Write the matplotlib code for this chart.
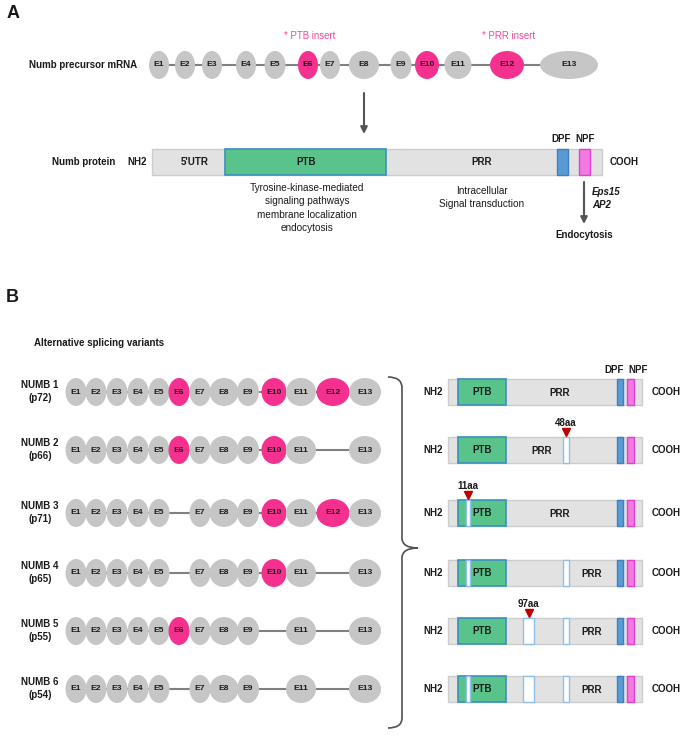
import matplotlib.pyplot as plt
from matplotlib.patches import Ellipse, Rectangle, PathPatch
from matplotlib.path import Path

plt.rcParams['font.family'] = ['Liberation Sans', 'DejaVu Sans']

# ---- data ----
exons = ['E1', 'E2', 'E3', 'E4', 'E5', 'E6', 'E7', 'E8', 'E9', 'E10', 'E11', 'E12', 'E13']
insert_exons = ['E6', 'E10', 'E12']
insert_sizes = ['11aa', '97aa', '48aa']
insert_notes = {'E6': '* PTB insert', 'E12': '* PRR insert'}

domains = ["5'UTR", 'PTB', 'PRR']
motifs = ['DPF', 'NPF']
ptb_roles = ['Tyrosine-kinase-mediated', 'signaling pathways', 'membrane localization', 'endocytosis']
prr_roles = ['Intracellular', 'Signal transduction']
npf_partners = ['Eps15', 'AP2']

variants = ['NUMB 1', 'NUMB 2', 'NUMB 3', 'NUMB 4', 'NUMB 5', 'NUMB 6']
isoforms = ['(p72)', '(p66)', '(p71)', '(p65)', '(p55)', '(p54)']
skipped = [[], ['E12'], ['E6'], ['E6', 'E12'], ['E10', 'E12'], ['E6', 'E10', 'E12']]

# ---- layout (pixels) ----
A_EX_X = [159, 185, 212, 246, 275, 308, 330, 364, 401, 427, 458, 507, 569]
A_EX_W = [20, 20, 20, 20, 21, 20, 20, 30, 21, 24, 27, 34, 58]
B_EX_X = [76, 96, 117, 138, 159, 179, 200, 224, 248, 274, 301, 333, 365]
B_EX_W = [21, 21, 21, 21, 21, 21, 21, 29, 22, 25, 30, 33, 32]
EX_H = 28
ROW_Y = [392, 450, 513, 573, 631, 689]
PRR_X = [560, 542, 560, 592, 592, 592]
INS_BOX = {'E6': (466, 3.5), 'E10': (523, 11), 'E12': (563, 6)}

GRAY = '#c6c6c6'
PINK = '#f5318f'
LINE = '#808080'
BAR = '#e2e2e2'
BAR_EDGE = '#cdcdcd'
GREEN = '#58c48b'
GREEN_EDGE = '#3d8fc0'
BLUE = '#5b9bd5'
BLUE_EDGE = '#3f7fbf'
MAGENTA = '#f27ae0'
MAGENTA_EDGE = '#e040d0'
DARK = '#1a1a1a'
FS = 7.0      # bold labels
FS_EX = 6.1   # exon labels
FS_TXT = 7.2  # description text

fig = plt.figure(figsize=(6.88, 7.36), dpi=100)
ax = fig.add_axes([0, 0, 1, 1])
ax.set_xlim(0, 688)
ax.set_ylim(736, 0)
ax.axis('off')


def label(x, y, s, ha='center', fs=FS, **kw):
    kw.setdefault('fontweight', 'bold')
    kw.setdefault('color', DARK)
    ax.text(x, y, s, ha=ha, va='center', fontsize=fs, **kw)


def exon_row(xs, ws, y, present):
    first = xs[exons.index(present[0])]
    last = xs[exons.index(present[-1])]
    ax.plot([first, last], [y, y], color=LINE, lw=1.5, zorder=1)
    for name in present:
        i = exons.index(name)
        col = PINK if name in insert_exons else GRAY
        ax.add_patch(Ellipse((xs[i], y), ws[i], EX_H, facecolor=col, edgecolor='none', zorder=2))
        label(xs[i], y, name, fs=FS_EX, zorder=3)


def box(x0, x1, yc, h, fc, ec, lw=1.0, z=2):
    ax.add_patch(Rectangle((x0, yc - h / 2), x1 - x0, h, facecolor=fc, edgecolor=ec, lw=lw, zorder=z))


arrow_style = dict(arrowstyle='-|>', color='#555555', lw=1.5, mutation_scale=10, shrinkA=0, shrinkB=0)

# ---- panel A ----
label(13, 14, 'A', fs=13)
for ex, note in insert_notes.items():
    label(A_EX_X[exons.index(ex)] + 2, 36, note, fs=6.9, fontweight='normal', color='#f0489a')
label(137, 65, 'Numb precursor mRNA', ha='right')
exon_row(A_EX_X, A_EX_W, 65, exons)

ax.annotate('', xy=(364, 134), xytext=(364, 93), arrowprops=arrow_style)

ya = 162
label(115, ya, 'Numb protein', ha='right')
label(137, ya, 'NH2')
box(152, 602, ya, 26, BAR, BAR_EDGE)
box(225, 386, ya, 26, GREEN, GREEN_EDGE, lw=1.2, z=3)
box(557, 568, ya, 26, BLUE, BLUE_EDGE, z=3)
box(579, 590, ya, 26, MAGENTA, MAGENTA_EDGE, z=3)
for name, x in zip(domains, [195, 306, 482]):
    label(x, ya, name, zorder=4)
for name, x in zip(motifs, [561, 585]):
    label(x, 139, name)
label(624, ya, 'COOH')

for i, line in enumerate(ptb_roles):
    label(307, 188 + 13.4 * i, line, fs=FS_TXT, fontweight='normal')
for i, line in enumerate(prr_roles):
    label(482, 191 + 13.4 * i, line, fs=FS_TXT, fontweight='normal')

ax.annotate('', xy=(584, 224), xytext=(584, 182), arrowprops=arrow_style)
for i, p in enumerate(npf_partners):
    label(592, 192 + 13.4 * i, p, ha='left', style='italic')
label(584, 235, 'Endocytosis')

# ---- panel B ----
label(12, 298, 'B', fs=13)
label(99, 343, 'Alternative splicing variants')

marked = set()
for r, (name, iso, skip) in enumerate(zip(variants, isoforms, skipped)):
    y = ROW_Y[r]
    label(40, y - 7, name)
    label(40, y + 6, iso)
    exon_row(B_EX_X, B_EX_W, y, [e for e in exons if e not in skip])

    # protein
    label(433, y, 'NH2')
    box(448, 642, y, 26, BAR, BAR_EDGE)
    box(458, 506, y, 26, GREEN, GREEN_EDGE, lw=1.2, z=3)
    box(617, 623, y, 26, BLUE, BLUE_EDGE, z=3)
    box(627, 634, y, 26, MAGENTA, MAGENTA_EDGE, z=3)
    label(482, y, 'PTB', zorder=5)
    label(PRR_X[r], y + 1, 'PRR', zorder=5)
    label(666, y, 'COOH')
    for ex, size in zip(insert_exons, insert_sizes):
        if ex in skip:
            x0, w = INS_BOX[ex]
            box(x0, x0 + w, y, 26, 'white', '#8fc0e6', lw=1.0, z=4)
            if ex not in marked:
                marked.add(ex)
                xc = x0 + w / 2
                ax.plot(xc, y - 18, marker='v', ms=6, color='#c00000', mec='#c00000', zorder=5)
                label(xc, y - 27, size)
    if r == 0:
        for m, x in zip(motifs, [614, 638]):
            label(x, y - 22, m)

# bracket
verts = [(388, 377), (402, 377), (402, 388),
         (402, 538),
         (402, 548), (418, 548),
         (402, 548), (402, 558),
         (402, 718),
         (402, 728), (388, 728)]
codes = [Path.MOVETO, Path.CURVE3, Path.CURVE3,
         Path.LINETO,
         Path.CURVE3, Path.CURVE3,
         Path.CURVE3, Path.CURVE3,
         Path.LINETO,
         Path.CURVE3, Path.CURVE3]
ax.add_patch(PathPatch(Path(verts, codes), facecolor='none', edgecolor='#505050', lw=1.2))

fig.savefig('out.png', dpi=100, facecolor='white')
